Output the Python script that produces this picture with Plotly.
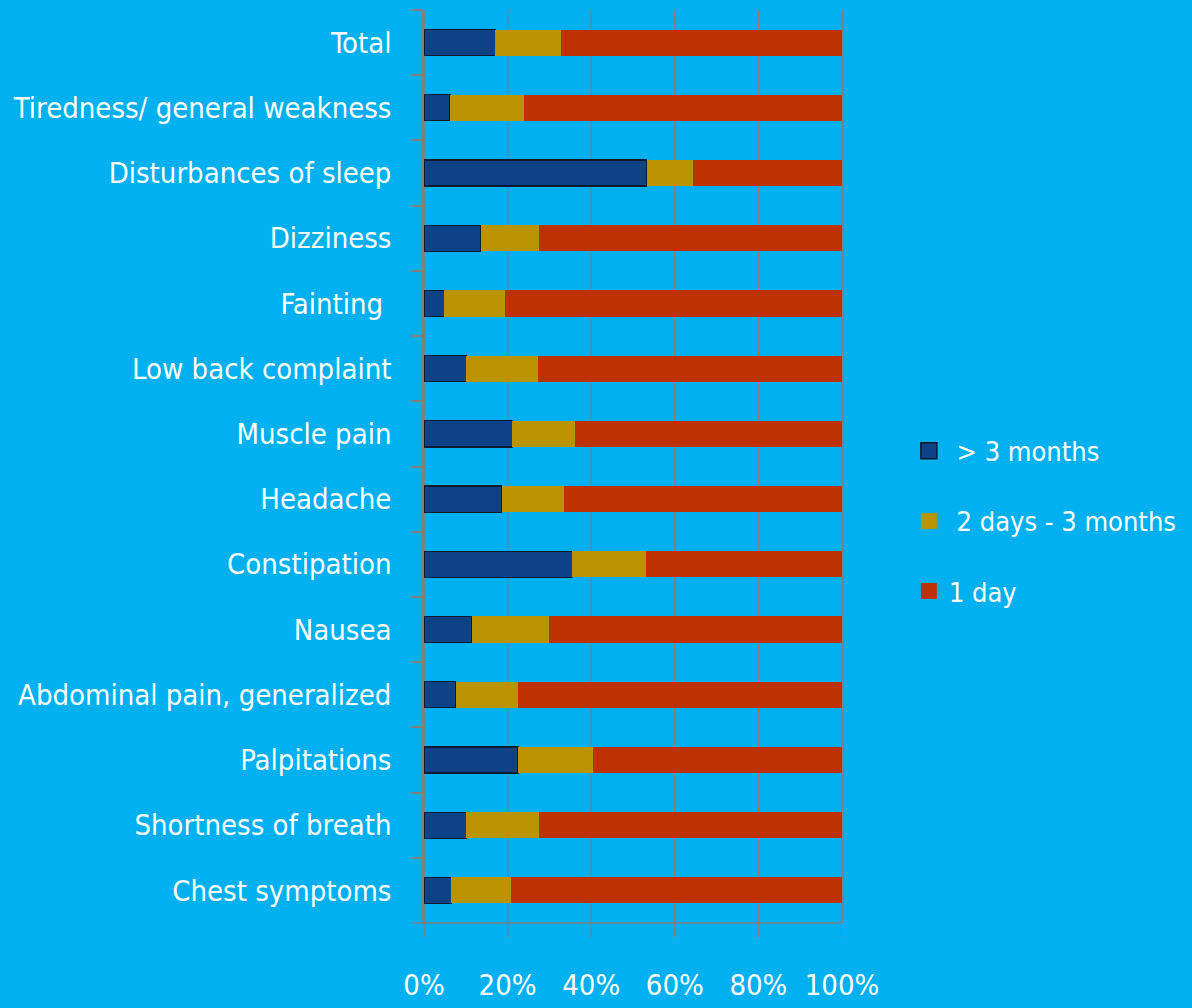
import plotly.graph_objects as go

categories = ["Total", "Tiredness/ general weakness", "Disturbances of sleep", "Dizziness",
              "Fainting\u00a0", "Low back complaint", "Muscle pain", "Headache", "Constipation",
              "Nausea", "Abdominal pain, generalized", "Palpitations", "Shortness of breath",
              "Chest symptoms"]
over_3_months = [17.1, 6.2, 53.3, 13.6, 4.9, 10.1, 21.1, 18.6, 35.5, 11.5, 7.6, 22.5, 10.1, 6.5]
days_2_to_3_months = [15.6, 17.8, 11.1, 13.8, 14.5, 17.2, 15.1, 14.8, 17.6, 18.5, 14.8, 18.0, 17.5, 14.3]
one_day = [67.3, 76.0, 35.6, 72.6, 80.6, 72.7, 63.8, 66.6, 46.9, 70.0, 77.6, 59.5, 72.4, 79.2]
series_names = ["\u00a0> 3 months", "\u00a02 days - 3 months", "1 day"]
x_ticks = [0, 20, 40, 60, 80, 100]
x_tick_labels = ["0%", "20%", "40%", "60%", "80%", "100%"]

FONT = "DejaVu Sans Condensed, Lato, sans-serif"
BG = "#00B0F0"
GRID = "#7F7F7F"
COLORS = ["#0E4287", "#B99400", "#BD3200"]
EDGES = ["#0A1A30", COLORS[1], COLORS[2]]
FS = 29

fig = go.Figure()
for vals, name, col, edge, w in zip([over_3_months, days_2_to_3_months, one_day], series_names,
                                    COLORS, EDGES, [1.2, 0, 0]):
    fig.add_trace(go.Bar(y=categories, x=vals, orientation="h", name=name,
                         marker=dict(color=col, line=dict(color=edge, width=w)),
                         showlegend=False))
# legend entries with larger square swatches
for i, (name, col, edge) in enumerate(zip(series_names, COLORS, EDGES)):
    fig.add_trace(go.Scatter(x=[None], y=[None], mode="markers", name=name,
                             marker=dict(symbol="square", size=20, color=col,
                                         line=dict(color=edge, width=1.5 if i == 0 else 0)),
                             legendgroup=str(i)))

# vertical gridlines, extending slightly below the bottom axis line
for t in x_ticks:
    fig.add_shape(type="line", xref="x", yref="paper", x0=t, x1=t, y0=-0.016, y1=1,
                  line=dict(color=GRID, width=1.5), layer="below")
# bottom axis line (extends left over the tick marks)
fig.add_shape(type="line", xref="paper", yref="paper", x0=-0.027, x1=1, y0=0, y1=0,
              line=dict(color=GRID, width=1.5))

fig.update_layout(
    width=1192, height=1008,
    barmode="stack", bargap=0.6,
    paper_bgcolor=BG, plot_bgcolor=BG,
    margin=dict(l=424, r=350, t=10, b=85, autoexpand=False),
    font=dict(family=FONT, color="white", size=FS),
    legend=dict(x=1.16, xanchor="left", y=0.44, yanchor="middle",
                traceorder="grouped", tracegroupgap=32, itemwidth=30,
                font=dict(family=FONT, color="white", size=27),
                bgcolor="rgba(0,0,0,0)"),
    xaxis=dict(range=[0, 100], tickvals=x_ticks, ticktext=x_tick_labels,
               showgrid=False, zeroline=False, showline=False,
               ticks="", ticklabelstandoff=42, tickangle=0, automargin=False,
               tickfont=dict(family=FONT, color="white", size=FS)),
    yaxis=dict(categoryorder="array", categoryarray=categories, autorange="reversed",
               showgrid=False, zeroline=False, showline=True, mirror=True,
               linecolor=GRID, linewidth=1.5, automargin=False,
               ticks="outside", tickson="boundaries", ticklen=11, tickcolor=GRID, tickwidth=1.5,
               ticklabelstandoff=25,
               tickfont=dict(family=FONT, color="white", size=FS)),
)

fig.write_html("out.html", config={"displayModeBar": False},
               post_script="document.body.style.margin='0';document.body.style.background='%s';" % BG)
